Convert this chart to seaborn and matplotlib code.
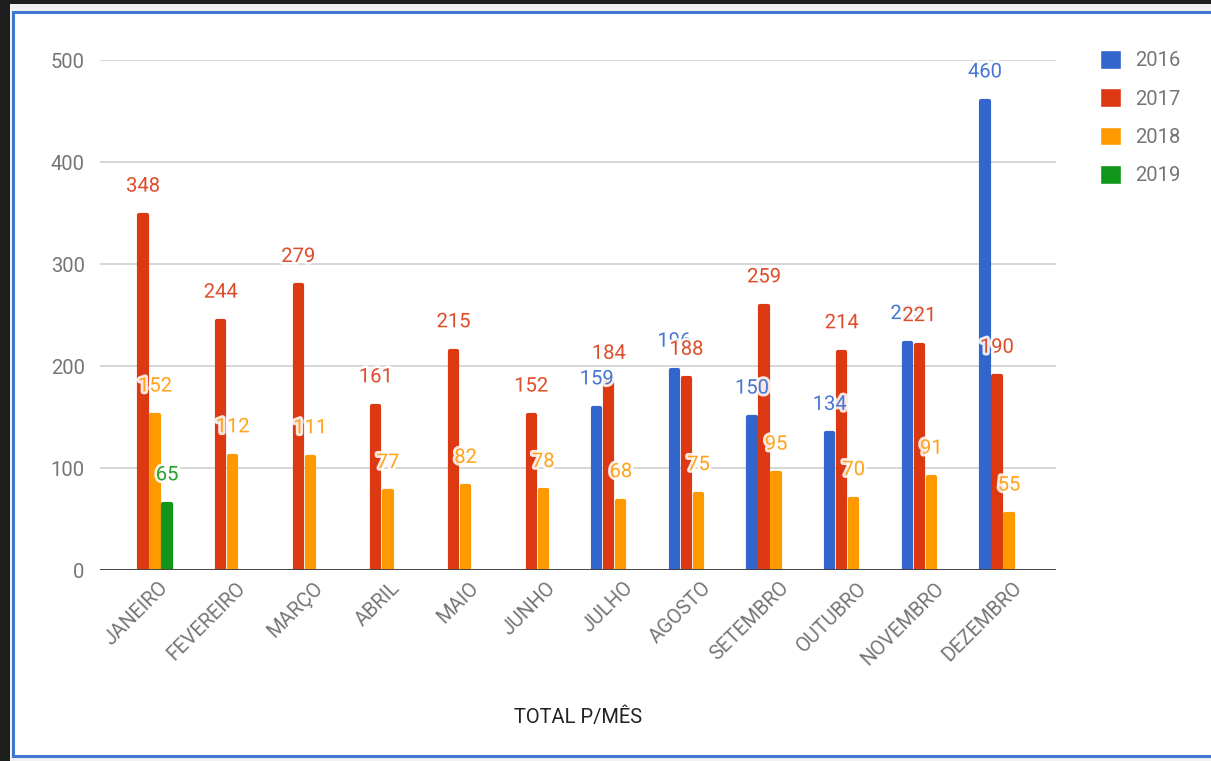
import numpy as np
import pandas as pd
import matplotlib
matplotlib.use("Agg")
import matplotlib.pyplot as plt
import matplotlib.patheffects as pe
import matplotlib.transforms as mtransforms
from matplotlib.patches import Rectangle
import seaborn as sns

months = ["JANEIRO", "FEVEREIRO", "MARÇO", "ABRIL", "MAIO", "JUNHO",
          "JULHO", "AGOSTO", "SETEMBRO", "OUTUBRO", "NOVEMBRO", "DEZEMBRO"]
years = ["2016", "2017", "2018", "2019"]
v2016 = [np.nan, np.nan, np.nan, np.nan, np.nan, np.nan, 159, 196, 150, 134, 223, 460]
v2017 = [348, 244, 279, 161, 215, 152, 184, 188, 259, 214, 221, 190]
v2018 = [152, 112, 111, 77, 82, 78, 68, 75, 95, 70, 91, 55]
v2019 = [65, np.nan, np.nan, np.nan, np.nan, np.nan, np.nan, np.nan, np.nan, np.nan, np.nan, np.nan]
yticks = [0, 100, 200, 300, 400, 500]
colors = ["#3366cc", "#dc3912", "#ff9900", "#109618"]
xlabel = "TOTAL P/MÊS"

rows = []
for yr, vals in zip(years, [v2016, v2017, v2018, v2019]):
    for m, v in zip(months, vals):
        if not np.isnan(v):
            rows.append({"mes": m, "ano": yr, "valor": v})
df = pd.DataFrame(rows)

sns.set_theme(style="white")
plt.rcParams["font.family"] = ["Roboto", "DejaVu Sans"]

W, H = 1211, 761
fig = plt.figure(figsize=(W / 100, H / 100), dpi=100, facecolor="#1e1e1e")

# screenshot frame
fig.patches.append(Rectangle((10 / W, 0), 1, 757 / H, transform=fig.transFigure,
                             facecolor="#f1f1f1", edgecolor="none", zorder=-3))
fig.patches.append(Rectangle((13 / W, 5 / H), 1.0, (H - 5 - 12) / H, transform=fig.transFigure,
                             facecolor="white", edgecolor="#3f78d0", linewidth=2.2, zorder=-2))

ax = fig.add_axes([100 / W, (H - 570) / H, (1056 - 100) / W, (570 - 60) / H])
ax.set_facecolor("none")

sns.barplot(data=df, x="mes", y="valor", hue="ano", order=months, hue_order=years,
            palette=colors, width=0.62, gap=0.4, dodge=True, ax=ax, legend=True,
            saturation=1, errorbar=None)

for cont, col in zip(ax.containers, colors):
    for p in cont.patches:
        p.set_edgecolor(col)
        p.set_linewidth(3.0)
        p.set_joinstyle("round")
    ax.bar_label(cont, fmt="%d", padding=14, color=col, fontsize=14.5, alpha=0.88,
                 path_effects=[pe.withStroke(linewidth=4, foreground="white")], zorder=6)

ax.set_ylim(0, 500)
ax.set_xlim(-0.631, 11.683)
ax.set_yticks(yticks)
ax.set_yticklabels([str(t) for t in yticks], color="#757575", fontsize=14.5)
ax.tick_params(axis="y", length=0, pad=11)
ax.tick_params(axis="x", length=0, pad=6)
ax.grid(axis="y", color="#cccccc", linewidth=1.1)
ax.set_axisbelow(True)
for s in ax.spines.values():
    s.set_visible(False)
ax.axhline(0, color="#444444", linewidth=1.4, zorder=5)

ax.set_xticks(range(len(months)))
ax.set_xticklabels(months, rotation=45, ha="right", rotation_mode="anchor",
                   color="#757575", fontsize=14.5)
shift = mtransforms.ScaledTranslation(9 / 100, 0, fig.dpi_scale_trans)
for lab in ax.get_xticklabels():
    lab.set_transform(lab.get_transform() + shift)
ax.set_xlabel(xlabel, color="#222222", fontsize=14.5, labelpad=28)
ax.set_ylabel("")

handles, labels = ax.get_legend_handles_labels()
ax.legend(handles, labels, loc="upper left", bbox_to_anchor=(1100 / W, 1 - 50 / H),
          bbox_transform=fig.transFigure, frameon=False, fontsize=14.5,
          handlelength=1.05, handleheight=1.05, handletextpad=0.7,
          labelspacing=0.90, labelcolor="#757575", borderpad=0, borderaxespad=0)

fig.savefig("out.png", dpi=100, facecolor=fig.get_facecolor())
